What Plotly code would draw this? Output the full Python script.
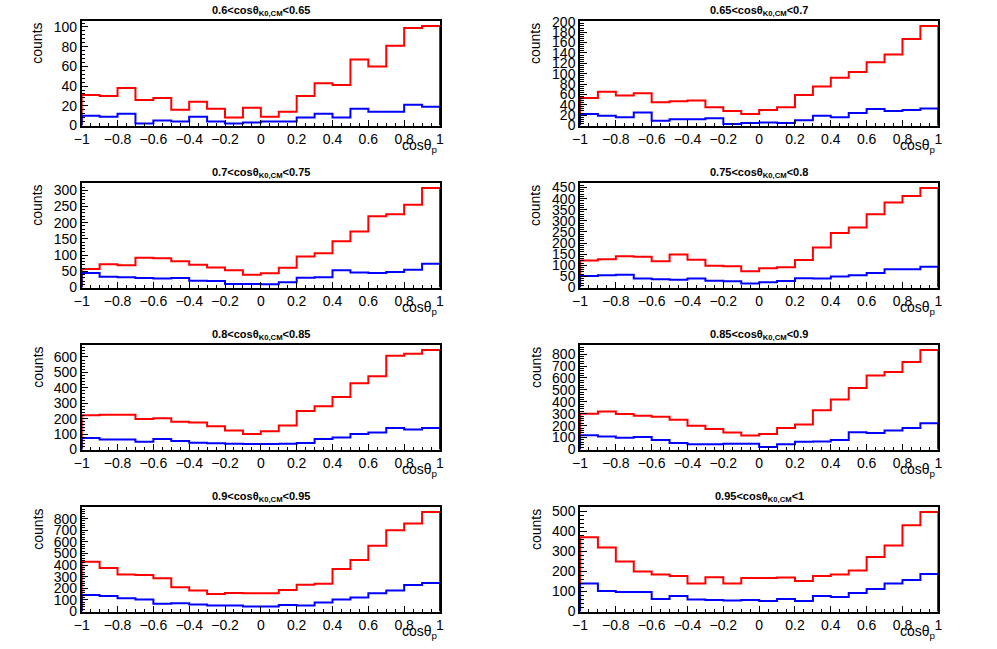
import numpy as np
import plotly.graph_objects as go

# bin edges for cos(theta_p): 20 bins from -1 to 1
bin_edges = [-1.0, -0.9, -0.8, -0.7, -0.6, -0.5, -0.4, -0.3, -0.2, -0.1, 0.0,
             0.1, 0.2, 0.3, 0.4, 0.5, 0.6, 0.7, 0.8, 0.9, 1.0]

panel_titles = [
    "0.6<cosθ<sub>K0,CM</sub><0.65",
    "0.65<cosθ<sub>K0,CM</sub><0.7",
    "0.7<cosθ<sub>K0,CM</sub><0.75",
    "0.75<cosθ<sub>K0,CM</sub><0.8",
    "0.8<cosθ<sub>K0,CM</sub><0.85",
    "0.85<cosθ<sub>K0,CM</sub><0.9",
    "0.9<cosθ<sub>K0,CM</sub><0.95",
    "0.95<cosθ<sub>K0,CM</sub><1",
]

red_0 = [31, 30, 38, 26, 28, 16, 24, 17, 8, 18, 9, 14, 30, 43, 41, 67, 60, 81, 99, 101]
blue_0 = [10, 9, 12, 2, 5, 4, 9, 4, 2, 3, 4, 4, 8, 12, 8, 17, 14, 14, 21, 19]

red_1 = [53, 65, 58, 62, 45, 47, 48, 35, 28, 22, 30, 35, 59, 75, 92, 103, 122, 137, 167, 192]
blue_1 = [22, 19, 16, 25, 9, 12, 12, 14, 3, 5, 6, 5, 10, 19, 16, 24, 32, 28, 30, 33]

red_2 = [57, 72, 69, 92, 90, 81, 70, 62, 53, 39, 44, 61, 96, 106, 143, 173, 220, 226, 255, 307]
blue_2 = [45, 33, 32, 29, 28, 29, 21, 20, 11, 11, 10, 16, 30, 32, 53, 46, 45, 48, 55, 73]

red_3 = [122, 127, 141, 138, 118, 148, 125, 98, 96, 73, 87, 91, 124, 180, 245, 270, 330, 383, 412, 448]
blue_3 = [52, 55, 57, 40, 37, 35, 40, 30, 28, 18, 24, 29, 42, 41, 50, 55, 65, 82, 82, 93]

red_4 = [222, 225, 225, 198, 203, 180, 175, 150, 123, 100, 118, 155, 250, 280, 340, 430, 475, 608, 620, 645]
blue_4 = [75, 65, 65, 50, 68, 55, 44, 40, 37, 35, 35, 37, 42, 68, 78, 100, 110, 140, 130, 140]

red_5 = [300, 318, 298, 283, 275, 250, 200, 172, 143, 118, 130, 180, 210, 330, 420, 515, 620, 650, 735, 835]
blue_5 = [120, 110, 98, 105, 80, 55, 45, 45, 48, 48, 22, 45, 65, 68, 80, 145, 138, 160, 180, 220]

red_6 = [428, 374, 318, 314, 286, 208, 180, 151, 160, 157, 157, 186, 231, 240, 366, 443, 566, 700, 757, 857]
blue_6 = [143, 134, 114, 103, 66, 71, 60, 51, 51, 43, 43, 57, 51, 77, 103, 120, 157, 180, 229, 246]

red_7 = [372, 320, 250, 200, 185, 178, 140, 172, 140, 168, 168, 170, 152, 178, 185, 205, 273, 330, 432, 498]
blue_7 = [140, 103, 98, 98, 63, 77, 60, 58, 55, 58, 52, 62, 52, 78, 72, 92, 112, 140, 158, 188]

red_series = [red_0, red_1, red_2, red_3, red_4, red_5, red_6, red_7]
blue_series = [blue_0, blue_1, blue_2, blue_3, blue_4, blue_5, blue_6, blue_7]
y_dticks = [20, 20, 50, 50, 100, 100, 100, 100]
x_tickvals = [-1, -0.8, -0.6, -0.4, -0.2, 0, 0.2, 0.4, 0.6, 0.8, 1]
x_ticktext = ["−1", "−0.8", "−0.6", "−0.4", "−0.2", "0", "0.2", "0.4", "0.6", "0.8", "1"]

W, H = 997, 649
col_x = [(81.7, 440.0), (580.0, 938.3)]
row_top = [21.0, 183.0, 345.0, 507.0]
plot_h = 104.5

FONT = "Liberation Sans, Arial, Helvetica, sans-serif"


def step_xy(vals):
    xs = [bin_edges[0]] + list(bin_edges) + [bin_edges[-1]]
    ys = [0] + list(vals) + [vals[-1], 0]
    return xs, ys


fig = go.Figure()
annotations = []
layout_axes = {}

for i in range(8):
    r, c = divmod(i, 2)
    n = "" if i == 0 else str(i + 1)
    x0, x1 = col_x[c]
    top = row_top[r]
    bot = top + plot_h
    xdom = [x0 / W, x1 / W]
    ydom = [1 - bot / H, 1 - top / H]
    ymax = 1.05 * max(red_series[i])

    for vals, color in ((red_series[i], "#ff0000"), (blue_series[i], "#0000ff")):
        xs, ys = step_xy(vals)
        fig.add_trace(go.Scatter(
            x=xs, y=ys, mode="lines", line=dict(color=color, width=2, shape="hv"),
            xaxis="x" + n, yaxis="y" + n, showlegend=False, hoverinfo="skip"))

    layout_axes["xaxis" + n] = dict(
        domain=xdom, range=[-1, 1], anchor="y" + n,
        showline=True, linecolor="black", linewidth=1.5, mirror=True,
        showgrid=False, zeroline=False, automargin=False,
        ticks="inside", ticklen=6, tickwidth=1, tickcolor="black",
        tickmode="array", tickvals=x_tickvals, ticktext=x_ticktext, tickangle=0,
        minor=dict(ticks="inside", ticklen=3, dtick=0.05, tick0=-1, tickcolor="black", showgrid=False),
        tickfont=dict(family=FONT, size=14, color="black"),
    )
    layout_axes["yaxis" + n] = dict(
        domain=ydom, range=[0, ymax], anchor="x" + n,
        showline=True, linecolor="black", linewidth=1.5, mirror=True,
        showgrid=False, zeroline=False, automargin=False,
        ticks="inside", ticklen=7, tickwidth=1, tickcolor="black",
        tick0=0, dtick=y_dticks[i], tickangle=0,
        minor=dict(ticks="inside", ticklen=4, dtick=y_dticks[i] / 5, tickcolor="black", showgrid=False),
        tickfont=dict(family=FONT, size=14, color="black"),
    )

    # panel title
    annotations.append(dict(
        text="<b>" + panel_titles[i] + "</b>", xref="paper", yref="paper",
        x=(xdom[0] + xdom[1]) / 2, y=ydom[1] + 1.0 / H, xanchor="center", yanchor="bottom",
        showarrow=False, font=dict(family=FONT, size=11, color="black")))
    # y title
    annotations.append(dict(
        text="counts", xref="paper", yref="paper",
        x=(x0 - 44.5) / W, y=ydom[1], xanchor="center", yanchor="top", textangle=-90,
        showarrow=False, font=dict(family=FONT, size=14, color="black")))
    # x title
    annotations.append(dict(
        text="cosθ<sub>p</sub>", xref="paper", yref="paper",
        x=x1 / W, y=1 - (bot + 9) / H, xanchor="right", yanchor="top",
        showarrow=False, font=dict(family=FONT, size=14, color="black")))

fig.update_layout(
    width=W, height=H, margin=dict(l=0, r=0, t=0, b=0, autoexpand=False),
    paper_bgcolor="white", plot_bgcolor="white",
    annotations=annotations, **layout_axes)

fig.write_html(
    "out.html",
    config={"displayModeBar": False},
    post_script="document.body.style.margin='0';document.body.style.padding='0';"
                "document.body.style.overflow='hidden';"
                "document.documentElement.style.overflow='hidden';")
